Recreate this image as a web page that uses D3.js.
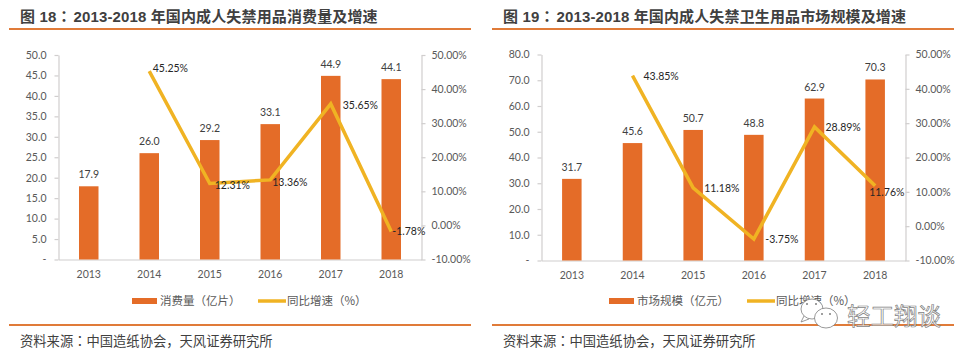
<!DOCTYPE html>
<html>
<head>
<meta charset="utf-8">
<script src="https://cdnjs.cloudflare.com/ajax/libs/d3/7.8.5/d3.min.js"></script>
<style>
  html, body { margin: 0; padding: 0; background: #fff; }
  svg { display: block; }
  text { font-family: Lato, "Noto Sans CJK SC", sans-serif; }
  .cjk { font-family: "Noto Sans CJK SC", sans-serif; }
  .title { font-family: "Liberation Sans", "Noto Sans CJK SC", sans-serif; letter-spacing: 0.13px; }
  .axis text { font-size: 10.5px; fill: #595959; font-family: Lato, sans-serif; }
  .axis path, .axis line { stroke: #d0cece; stroke-width: 1.2px; }
</style>
</head>
<body>
<div id="my_dataviz"></div>
<script>
// data //
const years = ["2013", "2014", "2015", "2016", "2017", "2018"];

const consumption = [17.9, 26.0, 29.2, 33.1, 44.9, 44.1];
const consumptionGrowth = [null, 45.25, 12.31, 13.36, 35.65, -1.78];
const consumptionTicks = [0, 5, 10, 15, 20, 25, 30, 35, 40, 45, 50];

const marketSize = [31.7, 45.6, 50.7, 48.8, 62.9, 70.3];
const marketGrowth = [null, 43.85, 11.18, -3.75, 28.89, 11.76];
const marketTicks = [0, 10, 20, 30, 40, 50, 60, 70, 80];

const growthTicks = [-10, 0, 10, 20, 30, 40, 50];

const barColor = "#e46c28";
const lineColor = "#f0b323";
const ruleColor = "#e07b39";
const textColor = "#404040";

// d3.format uses a real minus sign, the chart has a plain hyphen
const pct = d => d.toFixed(2) + "%";

const svg = d3.select("#my_dataviz").append("svg")
  .attr("width", 973)
  .attr("height", 357);

function drawPanel(p) {
  const g = svg.append("g");

  // header and footer rules
  g.append("rect").attr("x", p.ruleX).attr("y", 28).attr("width", 462).attr("height", 2).attr("fill", ruleColor);
  g.append("rect").attr("x", p.ruleX).attr("y", 324).attr("width", 462).attr("height", 2).attr("fill", ruleColor);

  const title = g.append("text").attr("class", "title")
    .attr("x", p.ruleX + 11).attr("y", 21.5)
    .attr("font-size", 15).attr("font-weight", 700).attr("fill", textColor);
  title.append("tspan").text(p.titleHead);
  title.append("tspan").attr("font-family", "Noto Sans CJK TC").text("：");
  title.append("tspan").attr("dx", 2).text(p.titleTail);

  // TC glyphs keep the punctuation in the middle of its cell
  const source = g.append("text").attr("class", "cjk")
    .attr("x", p.ruleX + 11).attr("y", 345.5)
    .attr("font-size", 13.3).attr("fill", textColor);
  source.append("tspan").text("资料来源");
  source.append("tspan").attr("font-family", "Noto Sans CJK TC").text("：");
  source.append("tspan").text("中国造纸协会");
  source.append("tspan").attr("font-family", "Noto Sans CJK KR").text("，");
  source.append("tspan").text("天风证券研究所");

  const x = d3.scaleBand().domain(years).range([p.left, p.right]);
  const y0 = d3.scaleLinear().domain(p.y0Domain).range([p.bottom, p.top]);
  const y1 = d3.scaleLinear().domain([-10, 50]).range([p.bottom, p.top]);
  const cx = i => x(years[i]) + x.bandwidth() / 2;

  // axes
  g.append("g").attr("class", "axis")
    .attr("transform", `translate(${p.left},0)`)
    .call(d3.axisLeft(y0).tickValues(p.ticks).tickSize(4).tickSizeOuter(0).tickPadding(8)
      .tickFormat(d => d === 0 ? "-" : d3.format(".1f")(d)));

  g.append("g").attr("class", "axis")
    .attr("transform", `translate(${p.right},0)`)
    .call(d3.axisRight(y1).tickValues(growthTicks).tickSize(4).tickSizeOuter(0).tickPadding(6)
      .tickFormat(pct));

  g.append("g").attr("class", "axis")
    .attr("transform", `translate(0,${p.bottom})`)
    .call(d3.axisBottom(x).tickSize(0).tickPadding(11));

  // bars
  const barW = 19.5;
  g.selectAll(".bar").data(p.values).enter().append("rect")
    .attr("class", "bar")
    .attr("x", (d, i) => cx(i) - barW / 2)
    .attr("y", d => y0(d))
    .attr("width", barW)
    .attr("height", d => p.bottom - y0(d))
    .attr("fill", barColor);

  g.selectAll(".bar-label").data(p.values).enter().append("text")
    .attr("class", "bar-label")
    .attr("x", (d, i) => cx(i))
    .attr("y", d => y0(d) - 8)
    .attr("text-anchor", "middle")
    .attr("font-size", 10.5).attr("fill", textColor)
    .text(d => d3.format(".1f")(d));

  // growth line
  const line = d3.line()
    .defined(d => d !== null)
    .x((d, i) => cx(i))
    .y(d => y1(d));

  g.append("path")
    .attr("d", line(p.growth))
    .attr("fill", "none")
    .attr("stroke", lineColor)
    .attr("stroke-width", 3.5);

  p.growth.forEach((d, i) => {
    if (d === null) return;
    g.append("text")
      .attr("class", "line-label")
      .attr("x", cx(i) + p.labelDx[i])
      .attr("y", y1(d) + p.labelDy[i])
      .attr("font-size", 10.5).attr("fill", "#262626")
      .text(pct(d));
  });

  // legend
  const lg = 301;
  g.append("rect").attr("x", p.legendX).attr("y", lg - 3).attr("width", 25).attr("height", 6).attr("fill", barColor);
  g.append("text").attr("class", "cjk")
    .attr("x", p.legendX + 28).attr("y", lg + 4)
    .attr("font-size", 11.5).attr("fill", "#595959")
    .text(p.legendBar);
  g.append("line")
    .attr("x1", p.legendLineX).attr("x2", p.legendLineX + 28)
    .attr("y1", lg).attr("y2", lg)
    .attr("stroke", lineColor).attr("stroke-width", 3.5);
  g.append("text").attr("class", "cjk")
    .attr("x", p.legendLineX + 29).attr("y", lg + 4)
    .attr("font-size", 11.5).attr("fill", "#595959")
    .text("同比增速（%）");
}

drawPanel({
  titleHead: "图 18",
  titleTail: "2013-2018 年国内成人失禁用品消费量及增速",
  ruleX: 9,
  left: 58.5, right: 421.5, top: 55, bottom: 259.5,
  y0Domain: [0, 50],
  ticks: consumptionTicks,
  values: consumption,
  growth: consumptionGrowth,
  labelDx: [0, 3.5, 5, 2, 12, 1],
  labelDy: [0, 1, 5.5, 6, 5, 3.5],
  legendX: 132,
  legendLineX: 258,
  legendBar: "消费量（亿片）"
});

drawPanel({
  titleHead: "图 19",
  titleTail: "2013-2018 年国内成人失禁卫生用品市场规模及增速",
  ruleX: 492,
  left: 541.5, right: 905.5, top: 54.5, bottom: 260.5,
  y0Domain: [0, 80],
  ticks: marketTicks,
  values: marketSize,
  growth: marketGrowth,
  labelDx: [0, 11, 11, 11.5, 11, -6],
  labelDy: [0, 4, 4, 4, 4, 10],
  legendX: 609,
  legendLineX: 747,
  legendBar: "市场规模（亿元）"
});

// watermark
const wm = svg.append("g");
const wmStroke = "#7f7f7f";
wm.append("path").attr("d", "M804 316 L801 322 L809 319")
  .attr("fill", "#fff").attr("stroke", wmStroke).attr("stroke-width", 0.8);
wm.append("ellipse").attr("cx", 812).attr("cy", 309).attr("rx", 11).attr("ry", 10)
  .attr("fill", "#fff").attr("stroke", wmStroke).attr("stroke-width", 0.8);
wm.append("ellipse").attr("cx", 826).attr("cy", 318).attr("rx", 11.5).attr("ry", 10)
  .attr("fill", "#fff").attr("stroke", wmStroke).attr("stroke-width", 0.8);
wm.selectAll(".eye").data([822, 830]).enter().append("circle")
  .attr("class", "eye").attr("cx", d => d).attr("cy", 314).attr("r", 1).attr("fill", wmStroke);
wm.selectAll(".eye2").data([807, 816]).enter().append("circle")
  .attr("class", "eye2").attr("cx", d => d).attr("cy", 304).attr("r", 1).attr("fill", wmStroke);
wm.append("text").attr("class", "cjk")
  .attr("x", 847).attr("y", 325)
  .attr("font-size", 23.5)
  .attr("fill", "#fff")
  .attr("fill-opacity", 0.7)
  .attr("stroke", wmStroke)
  .attr("stroke-width", 0.7)
  .text("轻工翔谈");
</script>
</body>
</html>
